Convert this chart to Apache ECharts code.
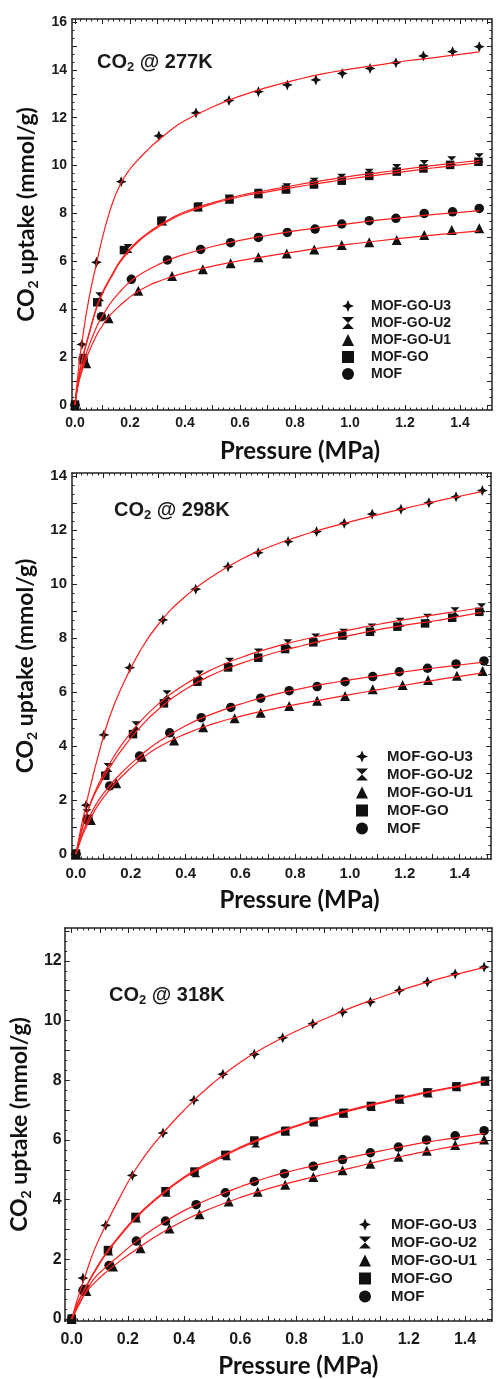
<!DOCTYPE html>
<html><head><meta charset="utf-8">
<script src="https://cdn.jsdelivr.net/npm/echarts@6/dist/echarts.min.js"></script>
<style>html,body{margin:0;padding:0;background:#fff}#c{width:496px;height:1379px}</style>
</head><body><div id="c"></div>
<script>
// ---------- names & ticks ----------
const SERIES_NAMES = ['MOF-GO-U3', 'MOF-GO-U2', 'MOF-GO-U1', 'MOF-GO', 'MOF'];
const PANEL_TITLES = ['277K', '298K', '318K'];
const X_LABELS = [0, 0.2, 0.4, 0.6, 0.8, 1.0, 1.2, 1.4];
const Y_LABELS_277 = [0, 2, 4, 6, 8, 10, 12, 14, 16];
const Y_LABELS_298 = [0, 2, 4, 6, 8, 10, 12, 14];
const Y_LABELS_318 = [0, 2, 4, 6, 8, 10, 12];

// ---------- 277 K : measured points ----------
const u3_277_p = [0, 0.025, 0.078, 0.168, 0.305, 0.44, 0.56, 0.667, 0.772, 0.876, 0.972, 1.073, 1.167, 1.267, 1.373, 1.47];
const u3_277_v = [0, 2.53, 5.96, 9.33, 11.24, 12.2, 12.72, 13.09, 13.37, 13.58, 13.85, 14.06, 14.3, 14.58, 14.76, 14.97];
const u2_277_p = [0, 0.03, 0.09, 0.193, 0.32, 0.45, 0.56, 0.667, 0.77, 0.87, 0.97, 1.07, 1.17, 1.27, 1.37, 1.47];
const u2_277_v = [0, 1.95, 4.52, 6.54, 7.69, 8.28, 8.6, 8.85, 9.08, 9.3, 9.47, 9.68, 9.88, 10.05, 10.2, 10.33];
const u1_277_p = [0, 0.041, 0.122, 0.23, 0.353, 0.465, 0.566, 0.667, 0.77, 0.87, 0.97, 1.07, 1.17, 1.27, 1.37, 1.47];
const u1_277_v = [0, 1.74, 3.62, 4.77, 5.39, 5.67, 5.92, 6.17, 6.33, 6.5, 6.68, 6.8, 6.89, 7.1, 7.31, 7.38];
const go_277_p = [0, 0.029, 0.081, 0.178, 0.314, 0.447, 0.562, 0.667, 0.767, 0.869, 0.97, 1.07, 1.17, 1.267, 1.364, 1.467];
const go_277_v = [0, 1.88, 4.29, 6.47, 7.69, 8.26, 8.59, 8.81, 9.0, 9.21, 9.37, 9.57, 9.75, 9.88, 10.03, 10.16];
const mof_277_p = [0, 0.03, 0.096, 0.205, 0.336, 0.457, 0.566, 0.667, 0.772, 0.873, 0.97, 1.07, 1.167, 1.27, 1.373, 1.47];
const mof_277_v = [0, 1.9, 3.69, 5.25, 6.06, 6.5, 6.78, 7.0, 7.21, 7.35, 7.56, 7.7, 7.8, 8.0, 8.07, 8.21];
// 277 K : fitted curves
const fit_277_p = [0, 0.01, 0.025, 0.05, 0.08, 0.1, 0.12, 0.14, 0.16, 0.19, 0.23, 0.27, 0.3, 0.35, 0.4, 0.5, 0.6, 0.7, 0.8, 0.9, 1.0, 1.1, 1.2, 1.3, 1.4, 1.47];
const fit_277_u3 = [0, 1.2, 2.6, 4.4, 6.0, 7.0, 7.85, 8.55, 9.1, 9.7, 10.25, 10.72, 11.03, 11.5, 11.88, 12.45, 12.9, 13.27, 13.57, 13.83, 14.03, 14.2, 14.37, 14.5, 14.65, 14.75];
const fit_277_u2 = [0, 0.9, 1.85, 2.95, 4.15, 4.7, 5.15, 5.55, 5.95, 6.4, 6.87, 7.23, 7.47, 7.8, 8.07, 8.45, 8.75, 8.97, 9.18, 9.37, 9.55, 9.7, 9.85, 10.0, 10.13, 10.22];
const fit_277_u1 = [0, 0.75, 1.4, 2.2, 2.95, 3.32, 3.65, 3.9, 4.12, 4.42, 4.75, 5.0, 5.15, 5.35, 5.52, 5.8, 6.03, 6.22, 6.4, 6.57, 6.72, 6.85, 6.98, 7.1, 7.2, 7.27];
const fit_277_go = [0, 0.9, 1.8, 2.9, 4.1, 4.65, 5.1, 5.5, 5.9, 6.35, 6.82, 7.18, 7.42, 7.75, 8.02, 8.4, 8.7, 8.9, 9.1, 9.28, 9.45, 9.6, 9.75, 9.9, 10.03, 10.12];
const fit_277_mof = [0, 0.8, 1.55, 2.45, 3.3, 3.72, 4.1, 4.42, 4.68, 5.05, 5.4, 5.67, 5.85, 6.1, 6.3, 6.62, 6.88, 7.08, 7.27, 7.43, 7.58, 7.72, 7.84, 7.95, 8.05, 8.12];

// ---------- 298 K ----------
const u3_298_p = [0, 0.037, 0.102, 0.196, 0.317, 0.437, 0.555, 0.665, 0.774, 0.878, 0.979, 1.081, 1.186, 1.288, 1.387, 1.483];
const u3_298_v = [0, 1.81, 4.41, 6.9, 8.67, 9.81, 10.64, 11.16, 11.57, 11.94, 12.25, 12.59, 12.77, 13.01, 13.23, 13.46];
const u2_298_p = [0, 0.04, 0.117, 0.219, 0.332, 0.451, 0.561, 0.666, 0.773, 0.875, 0.977, 1.08, 1.183, 1.283, 1.383, 1.48];
const u2_298_v = [0, 1.5, 3.2, 4.75, 5.9, 6.63, 7.1, 7.44, 7.79, 8.0, 8.18, 8.37, 8.58, 8.73, 8.97, 9.12];
const u1_298_p = [0, 0.054, 0.147, 0.241, 0.358, 0.464, 0.579, 0.674, 0.778, 0.88, 0.982, 1.083, 1.192, 1.285, 1.39, 1.484];
const u1_298_v = [0, 1.26, 2.62, 3.6, 4.2, 4.69, 5.03, 5.23, 5.48, 5.68, 5.85, 6.1, 6.26, 6.44, 6.6, 6.78];
const go_298_p = [0, 0.045, 0.107, 0.208, 0.321, 0.443, 0.555, 0.665, 0.763, 0.866, 0.972, 1.073, 1.173, 1.274, 1.373, 1.472];
const go_298_v = [0, 1.3, 2.9, 4.44, 5.58, 6.38, 6.91, 7.27, 7.59, 7.84, 8.09, 8.23, 8.42, 8.54, 8.75, 8.97];
const mof_298_p = [0, 0.04, 0.123, 0.232, 0.342, 0.457, 0.565, 0.674, 0.778, 0.88, 0.982, 1.083, 1.18, 1.283, 1.387, 1.489];
const mof_298_v = [0, 1.25, 2.52, 3.63, 4.49, 5.05, 5.43, 5.77, 6.05, 6.2, 6.38, 6.57, 6.75, 6.88, 7.04, 7.15];
const fit_298_p = [0, 0.01, 0.025, 0.05, 0.08, 0.12, 0.17, 0.23, 0.3, 0.4, 0.5, 0.6, 0.7, 0.8, 0.9, 1.0, 1.1, 1.2, 1.3, 1.4, 1.48];
const fit_298_u3 = [0, 0.55, 1.3, 2.4, 3.6, 5.0, 6.25, 7.45, 8.5, 9.55, 10.3, 10.9, 11.35, 11.72, 12.03, 12.3, 12.56, 12.8, 13.03, 13.25, 13.42];
const fit_298_u2 = [0, 0.45, 1.05, 1.8, 2.55, 3.3, 4.1, 4.85, 5.55, 6.3, 6.85, 7.27, 7.6, 7.87, 8.1, 8.3, 8.5, 8.68, 8.85, 9.0, 9.12];
const fit_298_u1 = [0, 0.3, 0.72, 1.25, 1.8, 2.35, 2.9, 3.45, 3.95, 4.45, 4.82, 5.1, 5.33, 5.53, 5.72, 5.9, 6.08, 6.25, 6.42, 6.58, 6.7];
const fit_298_go = [0, 0.42, 1.0, 1.8, 2.45, 3.15, 3.9, 4.65, 5.35, 6.1, 6.65, 7.05, 7.38, 7.65, 7.9, 8.1, 8.3, 8.48, 8.62, 8.8, 8.95];
const fit_298_mof = [0, 0.35, 0.8, 1.4, 1.95, 2.5, 3.05, 3.6, 4.15, 4.75, 5.2, 5.55, 5.85, 6.08, 6.28, 6.45, 6.6, 6.75, 6.88, 7.0, 7.1];

// ---------- 318 K ----------
const u3_318_p = [0, 0.04, 0.121, 0.216, 0.325, 0.435, 0.538, 0.65, 0.751, 0.858, 0.964, 1.063, 1.166, 1.266, 1.365, 1.468];
const u3_318_v = [0, 1.37, 3.14, 4.81, 6.23, 7.33, 8.2, 8.87, 9.42, 9.89, 10.28, 10.62, 11.01, 11.29, 11.56, 11.79];
const u2_318_p = [0, 0.05, 0.133, 0.232, 0.338, 0.442, 0.552, 0.655, 0.763, 0.864, 0.97, 1.068, 1.17, 1.27, 1.372, 1.473];
const u2_318_v = [0, 1.0, 2.28, 3.38, 4.25, 4.9, 5.47, 5.9, 6.3, 6.6, 6.9, 7.12, 7.36, 7.57, 7.78, 7.97];
const u1_318_p = [0, 0.052, 0.147, 0.245, 0.348, 0.455, 0.559, 0.662, 0.76, 0.86, 0.964, 1.063, 1.163, 1.264, 1.365, 1.468];
const u1_318_v = [0, 0.94, 1.76, 2.37, 3.03, 3.51, 3.94, 4.26, 4.5, 4.76, 4.98, 5.2, 5.44, 5.64, 5.83, 6.01];
const go_318_p = [0, 0.046, 0.129, 0.227, 0.334, 0.437, 0.547, 0.65, 0.76, 0.861, 0.967, 1.065, 1.166, 1.266, 1.369, 1.471];
const go_318_v = [0, 0.98, 2.31, 3.42, 4.28, 4.94, 5.5, 5.98, 6.29, 6.61, 6.89, 7.14, 7.37, 7.59, 7.79, 7.96];
const mof_318_p = [0, 0.04, 0.133, 0.23, 0.334, 0.443, 0.547, 0.65, 0.757, 0.86, 0.964, 1.063, 1.163, 1.263, 1.365, 1.468];
const mof_318_v = [0, 0.95, 1.79, 2.61, 3.28, 3.83, 4.23, 4.61, 4.87, 5.12, 5.34, 5.57, 5.76, 6.0, 6.14, 6.31];
const fit_318_p = [0, 0.01, 0.025, 0.05, 0.08, 0.12, 0.17, 0.23, 0.3, 0.4, 0.5, 0.6, 0.7, 0.8, 0.9, 1.0, 1.1, 1.2, 1.3, 1.4, 1.47];
const fit_318_u3 = [0, 0.33, 0.8, 1.5, 2.3, 3.12, 4.05, 5.05, 5.95, 7.0, 7.88, 8.6, 9.17, 9.65, 10.05, 10.45, 10.78, 11.1, 11.38, 11.62, 11.78];
const fit_318_u2 = [0, 0.26, 0.62, 1.08, 1.58, 2.18, 2.79, 3.44, 4.04, 4.76, 5.3, 5.76, 6.15, 6.48, 6.78, 7.03, 7.26, 7.48, 7.67, 7.85, 7.98];
const fit_318_u1 = [0, 0.18, 0.45, 0.88, 1.2, 1.55, 1.93, 2.33, 2.77, 3.3, 3.72, 4.07, 4.37, 4.62, 4.85, 5.07, 5.3, 5.5, 5.68, 5.85, 5.95];
const fit_318_go = [0, 0.25, 0.6, 1.05, 1.55, 2.15, 2.75, 3.4, 4.0, 4.72, 5.25, 5.72, 6.12, 6.45, 6.75, 7.0, 7.23, 7.45, 7.65, 7.83, 7.96];
const fit_318_mof = [0, 0.2, 0.5, 0.9, 1.35, 1.72, 2.13, 2.6, 3.07, 3.63, 4.06, 4.43, 4.75, 5.0, 5.22, 5.43, 5.63, 5.82, 5.98, 6.12, 6.22];

// ---------- styling ----------
const STAR = 'path://M5,0 L6.5,3.5 L10,5 L6.5,6.5 L5,10 L3.5,6.5 L0,5 L3.5,3.5 Z';
const HOURGLASS = 'path://M0,0 L10,0 L5,5 L10,10 L0,10 L5,5 Z';
const SYMBOLS = [STAR, HOURGLASS, 'triangle', 'rect', 'circle'];
const SYMBOL_SIZES = [11, 9, 10, 8.5, 9.5];
const AX = '#222';
const TICK_FONT = '"Liberation Sans", Arial, sans-serif';
const NAME_FONT = 'Lato, "Open Sans", sans-serif';

const xMajor = [], xMinor = [];
for (let i = 0; i <= 15; i++) xMajor.push(+(i * 0.1).toFixed(2));
for (let i = 0; i <= 75; i++) xMinor.push(+(i * 0.02).toFixed(2));
function yTicks(maxV) {
  const maj = [], min = [];
  for (let i = 0; i <= Math.floor(maxV); i++) maj.push(i);
  for (let i = 0; i <= Math.floor(maxV * 3); i++) min.push(i / 3);
  return [maj, min];
}

const pairs = (p, v) => p.map((x, i) => [x, v[i]]);

const panels = [
  { grid: { left: 72, top: 19, width: 420, height: 391 }, xMin: -0.0109, xMax: 1.5164, yMin: -0.209, yMax: 16.124,
    yLabels: Y_LABELS_277, fs: 14, xLM: 6, yLM: 5, xNG: 29, yNG: 30, xNamePad: 36, legFs: 14, legLeft: 337, legTop: 294, legGap: 3, legPad: 12,
    titleLeft: 97, titleTop: 52,
    pts: [[u3_277_p, u3_277_v], [u2_277_p, u2_277_v], [u1_277_p, u1_277_v], [go_277_p, go_277_v], [mof_277_p, mof_277_v]],
    fitP: fit_277_p, fits: [fit_277_u3, fit_277_u2, fit_277_u1, fit_277_go, fit_277_mof] },
  { grid: { left: 72, top: 473, width: 419, height: 386 }, xMin: -0.0146, xMax: 1.5146, yMin: -0.185, yMax: 14.111,
    yLabels: Y_LABELS_298, fs: 15, xLM: 7, yLM: 5, xNG: 29, yNG: 30, xNamePad: 36, legFs: 15, legLeft: 351, legTop: 744, legGap: 3, legPad: 14,
    titleLeft: 114, titleTop: 500,
    pts: [[u3_298_p, u3_298_v], [u2_298_p, u2_298_v], [u1_298_p, u1_298_v], [go_298_p, go_298_v], [mof_298_p, mof_298_v]],
    fitP: fit_298_p, fits: [fit_298_u3, fit_298_u2, fit_298_u1, fit_298_go, fit_298_mof] },
  { grid: { left: 64, top: 928, width: 428, height: 395 }, xMin: -0.0249, xMax: 1.496, yMin: -0.067, yMax: 13.1,
    yLabels: Y_LABELS_318, fs: 16, xLM: 11, yLM: 3, xNG: 33, yNG: 29, xNamePad: 40, legFs: 15, legLeft: 354, legTop: 1212, legGap: 3, legPad: 15,
    titleLeft: 109, titleTop: 985,
    pts: [[u3_318_p, u3_318_v], [u2_318_p, u2_318_v], [u1_318_p, u1_318_v], [go_318_p, go_318_v], [mof_318_p, mof_318_v]],
    fitP: fit_318_p, fits: [fit_318_u3, fit_318_u2, fit_318_u1, fit_318_go, fit_318_mof] }
];

const grids = [], xAxes = [], yAxes = [], series = [], legends = [], graphics = [];
const subRich = (nameFs) => ({
  a: { fontFamily: nameFs.f, fontWeight: 'bold', fontSize: nameFs.s, lineHeight: nameFs.s + 4, color: '#111', verticalAlign: 'middle' },
  s: { fontFamily: nameFs.f, fontWeight: 'bold', fontSize: Math.round(nameFs.s * 0.62), lineHeight: Math.round(nameFs.s * 0.62), color: '#111', verticalAlign: 'bottom', padding: [Math.round(nameFs.s * 0.45), 0, 0, 0] }
});

panels.forEach((c, gi) => {
  grids.push(c.grid);
  const lineStyle = { color: AX, width: 1.5 };
  const tickLine = { color: AX, width: 1 };
  const base = { type: 'value', gridIndex: gi, splitLine: { show: false } };
  const lbl = { fontFamily: TICK_FONT, fontWeight: 'bold', fontSize: c.fs, color: '#1a1a1a' };
  xAxes.push(Object.assign({}, base, {
    position: 'bottom', min: c.xMin, max: c.xMax,
    axisLine: { show: true, onZero: false, lineStyle },
    axisTick: { show: true, inside: true, length: 5, customValues: xMajor, lineStyle: tickLine },
    axisLabel: Object.assign({ show: true, customValues: X_LABELS, margin: c.xLM, formatter: v => v.toFixed(1) }, lbl),
    name: 'Pressure (MPa)', nameLocation: 'middle', nameGap: c.xNG,
    nameTextStyle: { fontFamily: NAME_FONT, fontWeight: 'bold', fontSize: 24, color: '#111', padding: [0, 0, 0, c.xNamePad] }
  }));
  xAxes.push(Object.assign({}, base, {
    position: 'bottom', min: c.xMin, max: c.xMax, axisLine: { show: false, onZero: false },
    axisTick: { show: true, inside: true, length: 2.5, customValues: xMinor, lineStyle: tickLine }, axisLabel: { show: false }
  }));
  xAxes.push(Object.assign({}, base, {
    position: 'top', min: c.xMin, max: c.xMax, axisLine: { show: true, onZero: false, lineStyle },
    axisTick: { show: true, inside: true, length: 5, customValues: xMajor, lineStyle: tickLine }, axisLabel: { show: false }
  }));
  xAxes.push(Object.assign({}, base, {
    position: 'top', min: c.xMin, max: c.xMax, axisLine: { show: false, onZero: false },
    axisTick: { show: true, inside: true, length: 2.5, customValues: xMinor, lineStyle: tickLine }, axisLabel: { show: false }
  }));
  const [yMaj, yMin] = yTicks(c.yMax);
  yAxes.push(Object.assign({}, base, {
    position: 'left', min: c.yMin, max: c.yMax,
    axisLine: { show: true, onZero: false, lineStyle },
    axisTick: { show: true, inside: true, length: 5, customValues: yMaj, lineStyle: tickLine },
    axisLabel: Object.assign({ show: true, customValues: c.yLabels, margin: c.yLM, formatter: v => String(v) }, lbl),
    name: '{a|CO}{s|2}{a| uptake (mmol/g)}', nameLocation: 'middle', nameGap: c.yNG,
    nameTextStyle: { rich: subRich({ f: NAME_FONT, s: 23 }) }
  }));
  yAxes.push(Object.assign({}, base, {
    position: 'left', min: c.yMin, max: c.yMax, axisLine: { show: false, onZero: false },
    axisTick: { show: true, inside: true, length: 2.5, customValues: yMin, lineStyle: tickLine }, axisLabel: { show: false }
  }));
  yAxes.push(Object.assign({}, base, {
    position: 'right', min: c.yMin, max: c.yMax, axisLine: { show: true, onZero: false, lineStyle },
    axisTick: { show: true, inside: true, length: 5, customValues: yMaj, lineStyle: tickLine }, axisLabel: { show: false }
  }));
  yAxes.push(Object.assign({}, base, {
    position: 'right', min: c.yMin, max: c.yMax, axisLine: { show: false, onZero: false },
    axisTick: { show: true, inside: true, length: 2.5, customValues: yMin, lineStyle: tickLine }, axisLabel: { show: false }
  }));

  const xi = gi * 4, yi = gi * 4;
  SERIES_NAMES.forEach((nm, k) => {
    series.push({
      name: nm, type: 'scatter', xAxisIndex: xi, yAxisIndex: yi,
      symbol: SYMBOLS[k], symbolSize: SYMBOL_SIZES[k], z: k === 1 ? 2 : 3,
      itemStyle: { color: '#111', opacity: 1 },
      data: pairs(c.pts[k][0], c.pts[k][1])
    });
    series.push({
      name: nm + ' fit', type: 'line', xAxisIndex: xi, yAxisIndex: yi,
      symbol: 'none', showSymbol: false, smooth: 0.5, z: 5, silent: true,
      lineStyle: { color: '#ff1e1e', width: 1.2 },
      data: pairs(c.fitP, c.fits[k])
    });
  });

  legends.push({
    data: SERIES_NAMES, orient: 'vertical', left: c.legLeft, top: c.legTop,
    itemWidth: 12, itemHeight: 12, itemGap: c.legGap, selectedMode: false,
    textStyle: { fontFamily: TICK_FONT, fontWeight: 'bold', fontSize: c.legFs, color: '#1a1a1a', lineHeight: c.legFs, padding: [0, 0, 0, c.legPad] }
  });

  graphics.push({
    type: 'text', left: c.titleLeft, top: c.titleTop, z: 10,
    style: {
      text: '{a|CO}{s|2}{a| @ ' + PANEL_TITLES[gi] + '}',
      rich: {
        a: { fontFamily: TICK_FONT, fontWeight: 'bold', fontSize: 20, lineHeight: 24, fill: '#1a1a1a', verticalAlign: 'middle' },
        s: { fontFamily: TICK_FONT, fontWeight: 'bold', fontSize: 13, lineHeight: 13, fill: '#1a1a1a', verticalAlign: 'bottom', padding: [9, 0, 0, 0] }
      }
    }
  });
});

const chart = echarts.init(document.getElementById('c'), null, { renderer: 'canvas' });
chart.setOption({
  backgroundColor: '#fff', animation: false,
  grid: grids, xAxis: xAxes, yAxis: yAxes, series, legend: legends, graphic: graphics
});
</script></body></html>
